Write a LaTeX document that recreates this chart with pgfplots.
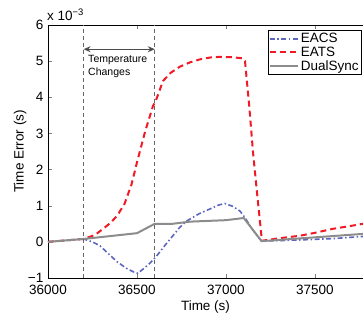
\documentclass[border=0pt]{standalone}
\usepackage{pgfplots}
\pgfplotsset{compat=1.18}
\usepackage{fontspec}
\setmainfont{Liberation Sans}
\usetikzlibrary{arrows.meta}
\definecolor{eacs}{rgb}{0.36,0.40,0.75}
\definecolor{eats}{rgb}{0.95,0.10,0.15}
\definecolor{dual}{rgb}{0.55,0.55,0.55}
\begin{document}
\begin{tikzpicture}
\begin{axis}[
  scale only axis, width=315pt, height=253pt,
  xmin=36000, xmax=37770, ymin=-1, ymax=6,
  axis x line=box, axis y line=left,
  axis line style={line width=0.9pt, black, -},
  tick align=inside, major tick length=4pt,
  scaled x ticks=false, scaled y ticks=false,
  xtick={36000,36500,37000,37500},
  xticklabels={36000,36500,37000,37500},
  ytick={-1,0,1,2,3,4,5,6},
  yticklabels={−1,0,1,2,3,4,5,6},
  /pgf/number format/assume math mode=true,
  tick label style={font=\fontsize{13.5}{15}\selectfont, inner sep=1pt},
  x tick label style={yshift=-6pt},
  y tick label style={xshift=-3.5pt},
  label style={font=\fontsize{13.5}{15}\selectfont},
  xlabel={Time (s)}, ylabel={Time Error (s)},
  xlabel style={yshift=-1pt}, ylabel style={yshift=-3pt},
  legend style={at={(0.997,0.98)}, anchor=north east, draw=black, line width=0.7pt,
    font=\fontsize{13.5}{15}\selectfont, inner sep=1pt, row sep=-1.5pt,
    legend cell align=left},
  legend image post style={line width=2pt},
  legend image code/.code={\draw[#1] (0pt,0pt) -- (28pt,0pt);},
  clip=true,
]
\addplot[eacs, line width=1.6pt, dash pattern=on 5pt off 2.5pt on 1.5pt off 2.5pt] coordinates {
(36000,0.0) (36100,0.04) (36200,0.08) (36250,0.0) (36292,-0.11) (36340,-0.33) (36388,-0.55) (36440,-0.73) (36480,-0.83) (36505,-0.87) (36535,-0.75) (36575,-0.58) (36612,-0.38) (36660,-0.08) (36702,0.17) (36740,0.40) (36780,0.58) (36850,0.78) (36910,0.91) (36960,1.02) (36994,1.06) (37040,0.98) (37079,0.85) (37110,0.65) (37135,0.44) (37170,0.20) (37200,0.02) (37400,0.05) (37600,0.09) (37770,0.15)
};
\addlegendentry{EACS}
\addplot[eats, line width=2pt, dash pattern=on 6pt off 4pt] coordinates {
(36000,0.0) (36100,0.04) (36200,0.08) (36264,0.19) (36309,0.36) (36350,0.52) (36388,0.72) (36430,1.05) (36470,1.6) (36500,2.2) (36545,3.04) (36590,3.76) (36607,3.92) (36646,4.45) (36690,4.68) (36742,4.85) (36800,4.97) (36854,5.05) (36910,5.10) (36966,5.12) (37030,5.11) (37090,5.08) (37107,5.00) (37130,3.8) (37152,2.48) (37174,1.38) (37202,0.03) (37300,0.10) (37416,0.17) (37500,0.25) (37600,0.36) (37700,0.44) (37770,0.50)
};
\addlegendentry{EATS}
\addplot[dual, line width=2pt] coordinates {
(36000,0.0) (36200,0.08) (36500,0.24) (36600,0.50) (36700,0.50) (36800,0.56) (37000,0.60) (37100,0.66) (37200,0.02) (37770,0.22)
};
\addlegendentry{DualSync}
\addplot[black!60, line width=0.7pt, dash pattern=on 4pt off 3pt, forget plot] coordinates {(36200,-1) (36200,6)};
\addplot[black!60, line width=0.7pt, dash pattern=on 4pt off 3pt, forget plot] coordinates {(36600,-1) (36600,6)};
\draw[black!70, line width=0.9pt, {Stealth[length=7pt,width=6pt]}-{Stealth[length=7pt,width=6pt]}] (axis cs:36200,5.33) -- (axis cs:36600,5.33);
\node[anchor=north west, align=left, inner sep=0pt, font=\fontsize{10.5}{13.5}\selectfont] at (axis cs:36225,5.18) {Temperature\\Changes};
\end{axis}
\node[anchor=south west, inner sep=0pt, font=\fontsize{13.5}{15}\selectfont] at (-1pt,257pt) {x 10\textsuperscript{−3}};
\pgfresetboundingbox
\path[use as bounding box] (-48pt,-42pt) rectangle (315pt,278pt);
\end{tikzpicture}
\end{document}
